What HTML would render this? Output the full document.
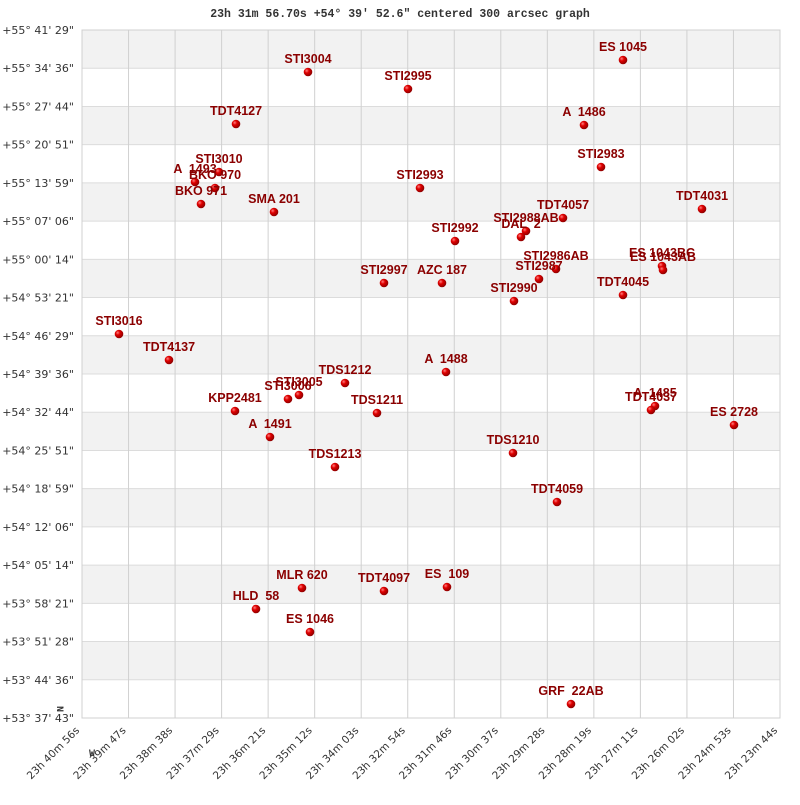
<!DOCTYPE html>
<html><head><meta charset="utf-8"><style>
body{margin:0;background:#fff;}
svg text{font-family:"Liberation Sans",sans-serif;}
.l{font-weight:bold;font-size:12.5px;fill:#8b0000;text-anchor:middle;white-space:pre;}
.y{font-family:"DejaVu Sans",sans-serif!important;font-size:11px;fill:#333;text-anchor:end;}
.x{font-family:"DejaVu Sans",sans-serif!important;font-size:10.5px;fill:#333;text-anchor:end;}
</style></head><body>
<svg width="800" height="800" xmlns="http://www.w3.org/2000/svg">
<defs><radialGradient id="g" cx="35%" cy="35%" r="65%"><stop offset="0" stop-color="#ff8080"/><stop offset="0.4" stop-color="#e00000"/><stop offset="1" stop-color="#900000"/></radialGradient></defs>
<text x="400" y="17" text-anchor="middle" style="font-family:'Liberation Mono',monospace;font-size:11.5px;font-weight:bold;fill:#333">23h 31m 56.70s +54° 39′ 52.6" centered 300 arcsec graph</text>
<g id="bands"></g>
<g id="grid"></g>
<g id="pts"></g>
<text x="92" y="756" style="font-family:'Liberation Mono',monospace;font-size:10px;font-weight:bold;fill:#333" text-anchor="middle">W</text>
<text x="57" y="709" style="font-family:'Liberation Mono',monospace;font-size:10px;font-weight:bold;fill:#333" text-anchor="middle" transform="rotate(90 57 709)">N</text>
</svg>
<script>
const NS="http://www.w3.org/2000/svg";
function el(p,t,a,txt){const e=document.createElementNS(NS,t);for(const k in a)e.setAttribute(k,a[k]);if(txt!=null)e.textContent=txt;document.getElementById(p).appendChild(e);return e;}
const L=82,R=780,T=30,B=718;
const dy=(B-T)/18, dx=(R-L)/15;
for(let i=0;i<18;i+=2) el('bands','rect',{x:L,y:T+i*dy,width:R-L,height:dy,fill:'#f2f2f2'});
const ylab=['+55° 41\' 29"','+55° 34\' 36"','+55° 27\' 44"','+55° 20\' 51"','+55° 13\' 59"','+55° 07\' 06"','+55° 00\' 14"','+54° 53\' 21"','+54° 46\' 29"','+54° 39\' 36"','+54° 32\' 44"','+54° 25\' 51"','+54° 18\' 59"','+54° 12\' 06"','+54° 05\' 14"','+53° 58\' 21"','+53° 51\' 28"','+53° 44\' 36"','+53° 37\' 43"'];
for(let i=0;i<=18;i++){const y=T+i*dy;el('grid','line',{x1:L,x2:R,y1:y,y2:y,stroke:'#dcdcdc','stroke-width':1});el('grid','text',{x:74,y:y+4,class:'y'},ylab[i]);}
const xlab=['23h 40m 56s','23h 39m 47s','23h 38m 38s','23h 37m 29s','23h 36m 21s','23h 35m 12s','23h 34m 03s','23h 32m 54s','23h 31m 46s','23h 30m 37s','23h 29m 28s','23h 28m 19s','23h 27m 11s','23h 26m 02s','23h 24m 53s','23h 23m 44s'];
for(let i=0;i<=15;i++){const x=L+i*dx;el('grid','line',{x1:x,x2:x,y1:T,y2:B,stroke:'#d0d0d0','stroke-width':1});el('grid','text',{x:x-2,y:731,class:'x',transform:`rotate(-45 ${x-2} 731)`},xlab[i]);}
el('grid','rect',{x:L,y:T,width:R-L,height:B-T,fill:'none',stroke:'#d0d0d0'});
const P=[["STI3004",308,72],["STI2995",408,89],["ES 1045",623,60],["TDT4127",236,124],["A  1486",584,125],["STI2983",601,167],["STI3010",219,172],["A  1493",195,182],["BKO 970",215,188],["BKO 971",201,204],["SMA 201",274,212],["STI2993",420,188],["TDT4057",563,218],["TDT4031",702,209],["STI2988AB",526,231],["DAL  2",521,237],["STI2992",455,241],["ES 1043BC",662,266],["ES 1043AB",663,270],["STI2986AB",556,269],["STI2987",539,279],["STI2997",384,283],["AZC 187",442,283],["STI2990",514,301],["TDT4045",623,295],["STI3016",119,334],["TDT4137",169,360],["A  1488",446,372],["TDS1212",345,383],["STI3005",299,395],["STI3006",288,399],["KPP2481",235,411],["TDS1211",377,413],["A  1485",655,406],["TDT4037",651,410],["ES 2728",734,425],["A  1491",270,437],["TDS1210",513,453],["TDS1213",335,467],["TDT4059",557,502],["MLR 620",302,588],["TDT4097",384,591],["ES  109",447,587],["HLD  58",256,609],["ES 1046",310,632],["GRF  22AB",571,704]];
for(const [n,x,y] of P){el('pts','circle',{cx:x,cy:y,r:4.3,fill:'url(#g)'});}
for(const [n,x,y] of P){el('pts','text',{x:x,y:y-9,class:'l'},n);}
</script>
</body></html>
